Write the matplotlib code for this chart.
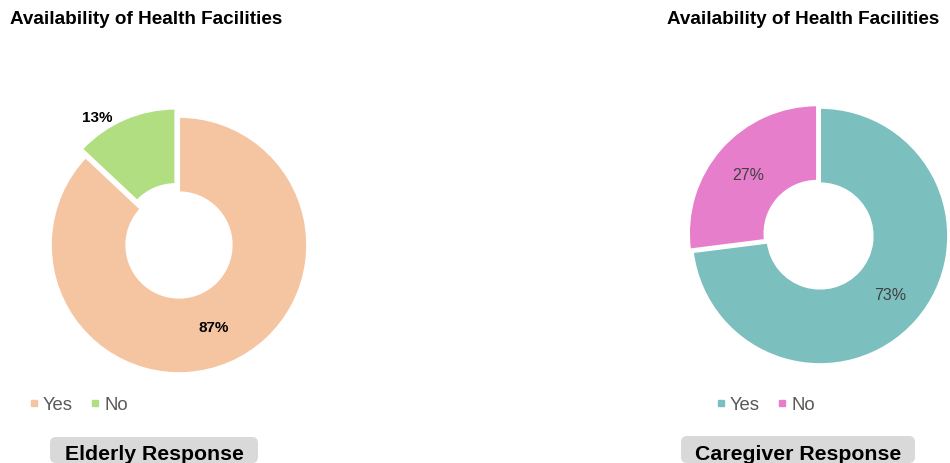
import matplotlib
matplotlib.use("Agg")
import matplotlib.pyplot as plt
from matplotlib.lines import Line2D
from matplotlib.patches import FancyBboxPatch
from matplotlib.transforms import IdentityTransform

plt.rcParams['font.family'] = ['Liberation Sans', 'DejaVu Sans']

labels = ['Yes', 'No']
elderly = [87, 13]
caregiver = [73, 27]
title = 'Availability of Health Facilities'
elderly_colors = ['#F5C5A1', '#B1DE81']
caregiver_colors = ['#7BBFBE', '#E67ECB']

W, H = 950, 464
fig = plt.figure(figsize=(W / 100, H / 100), dpi=100)

def donut(cx, cy, values, colors, explode, label_style, label_pos):
    # axes of 300x300 px around the donut centre, 1 unit = 128 px
    ax = fig.add_axes([(cx - 150) / W, (H - cy - 150) / H, 300 / W, 300 / H])
    wedges, _ = ax.pie(values, colors=colors, startangle=90, counterclock=False,
                       explode=explode, radius=1,
                       wedgeprops=dict(width=0.59, edgecolor='white', linewidth=1.5))
    for (x, y), v in zip(label_pos, values):
        ax.text(x, y, f'{v}%', ha='center', va='center', **label_style)
    ax.set_xlim(-1.17, 1.17)
    ax.set_ylim(-1.17, 1.17)
    ax.set_aspect('equal')
    ax.axis('off')
    return ax

donut(179, 246, elderly, elderly_colors, [0, 0.07],
      dict(fontsize=11, fontweight='bold', color='black'),
      [(0.27, -0.64), (-0.64, 1.0)])
donut(820, 237, caregiver, caregiver_colors, [0, 0.03],
      dict(fontsize=11.5, color='#404040'),
      [(0.55, -0.46), (-0.56, 0.48)])

fig.text(10 / W, 1 - 19 / H, title, ha='left', va='center',
         fontsize=13.6, fontweight='bold')
fig.text(667 / W, 1 - 19 / H, title, ha='left', va='center',
         fontsize=13.6, fontweight='bold')

def legend(x, colors):
    handles = [Line2D([], [], linestyle='none', marker='s', markersize=5,
                      color=c) for c in colors]
    fig.legend(handles, labels, loc='center left',
               bbox_to_anchor=(x / W, 1 - 406 / H), ncol=2, frameon=False,
               handlelength=0.5, handletextpad=0.25, columnspacing=0.95,
               labelcolor='#595959', fontsize=13.3, borderpad=0.2)

legend(16, elderly_colors)
legend(703, caregiver_colors)

# grey caption boxes (pixel coords, y from the top)
def caption(x0, x1, top, text):
    fig.patches.append(FancyBboxPatch(
        (x0, 0), x1 - x0, H - top, boxstyle='round,pad=0,rounding_size=6',
        facecolor='#D9D9D9', edgecolor='none', transform=IdentityTransform(),
        figure=fig))
    fig.text((x0 + x1) / 2 / W, 1 - 455 / H, text, ha='center', va='center',
             fontsize=15.3, fontweight='bold')

caption(50, 258, 438, 'Elderly Response')
caption(681, 915, 437, 'Caregiver Response')

fig.savefig('out.png', dpi=100)
